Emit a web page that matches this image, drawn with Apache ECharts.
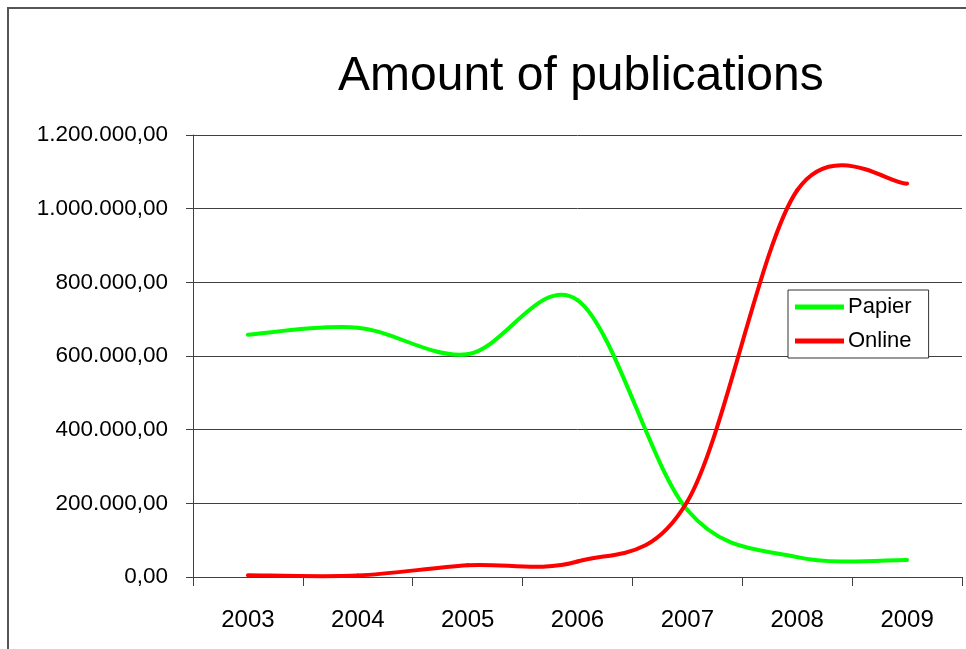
<!DOCTYPE html>
<html>
<head>
<meta charset="utf-8">
<title>Amount of publications</title>
<script src="https://cdn.jsdelivr.net/npm/echarts@6/dist/echarts.min.js"></script>
<style>
  html, body { margin: 0; padding: 0; background: #ffffff; }
  #chart { width: 966px; height: 649px; }
</style>
</head>
<body>
<div id="chart"></div>
<script>
// Publication counts per year
const years = ['2003', '2004', '2005', '2006', '2007', '2008', '2009'];
const papier = [658000, 677000, 605000, 752000, 182000, 54000, 46000];
const online = [5000, 4000, 32000, 42000, 205000, 1050000, 1068000];

// Value axis labels (European number format), bottom to top
const yTickLabels = ['0,00', '200.000,00', '400.000,00', '600.000,00', '800.000,00', '1.000.000,00', '1.200.000,00'];

const FONT = '"Liberation Sans", Arial, sans-serif';
const AXIS_GRAY = '#404040';

// Spreadsheet-style smoothed line: each segment is a cubic Bezier whose
// control points follow the Catmull-Rom tangents (neighbour difference / 6).
// Points come from the chart's own coordinate system via api.coord.
function smoothSegment(values, color) {
  return function (params, api) {
    const i = params.dataIndex;
    if (i >= values.length - 1) return null;
    const pt = (k) => api.coord([Math.max(0, Math.min(values.length - 1, k)),
                                 values[Math.max(0, Math.min(values.length - 1, k))]]);
    const p0 = pt(i - 1), p1 = pt(i), p2 = pt(i + 1), p3 = pt(i + 2);
    return {
      type: 'bezierCurve',
      shape: {
        x1: p1[0], y1: p1[1],
        cpx1: p1[0] + (p2[0] - p0[0]) / 6, cpy1: p1[1] + (p2[1] - p0[1]) / 6,
        cpx2: p2[0] - (p3[0] - p1[0]) / 6, cpy2: p2[1] - (p3[1] - p1[1]) / 6,
        x2: p2[0], y2: p2[1]
      },
      style: { fill: null, stroke: color, lineWidth: 4, lineCap: 'round', lineJoin: 'round' },
      silent: true
    };
  };
}

function lineSeries(name, values, color) {
  return {
    name: name,
    type: 'custom',
    data: values.map((v, i) => [i, v]),
    encode: { x: 0, y: 1 },
    clip: false,
    color: color,
    itemStyle: { color: color },
    renderItem: smoothSegment(values, color)
  };
}

const chart = echarts.init(document.getElementById('chart'), null, { renderer: 'canvas' });

chart.setOption({
  animation: false,
  backgroundColor: '#ffffff',
  textStyle: { fontFamily: FONT },
  title: {
    text: 'Amount of publications',
    left: 338,
    top: 53,
    padding: 0,
    textStyle: { fontFamily: FONT, fontSize: 48, fontWeight: 'normal', color: '#000000' }
  },
  legend: {
    left: 788,
    top: 290,
    orient: 'vertical',
    icon: 'rect',
    itemWidth: 49,
    itemHeight: 5,
    itemGap: 10,
    padding: [5, 17, 5, 7],
    borderColor: '#333333',
    borderWidth: 1,
    backgroundColor: '#ffffff',
    textStyle: { fontFamily: FONT, fontSize: 22, color: '#000000', lineHeight: 24, padding: [0, 0, 0, -1] },
    data: ['Papier', 'Online']
  },
  graphic: [{
    type: 'rect',
    shape: { x: 8, y: 8, width: 1000, height: 700 },
    style: { fill: 'none', stroke: '#555555', lineWidth: 2 },
    silent: true,
    z: 100
  }],
  grid: { left: 193, right: 4, top: 135, bottom: 72, containLabel: false },
  xAxis: {
    type: 'category',
    data: years,
    boundaryGap: true,
    axisLine: { lineStyle: { color: AXIS_GRAY, width: 1 } },
    axisTick: { show: true, length: 9, alignWithLabel: false, lineStyle: { color: AXIS_GRAY } },
    axisLabel: { fontFamily: FONT, fontSize: 24, color: '#000000', margin: 31 },
    splitLine: { show: false }
  },
  yAxis: {
    type: 'value',
    min: 0,
    max: 1200000,
    interval: 200000,
    axisLine: { show: true, lineStyle: { color: AXIS_GRAY, width: 1 } },
    axisTick: { show: true, length: 7, lineStyle: { color: AXIS_GRAY } },
    axisLabel: {
      fontFamily: FONT, fontSize: 22.5, color: '#000000', margin: 25,
      formatter: (value, index) => yTickLabels[index]
    },
    splitLine: { show: true, lineStyle: { color: AXIS_GRAY, width: 1 } }
  },
  series: [
    lineSeries('Papier', papier, '#00ff00'),
    lineSeries('Online', online, '#ff0000')
  ]
});
</script>
</body>
</html>
